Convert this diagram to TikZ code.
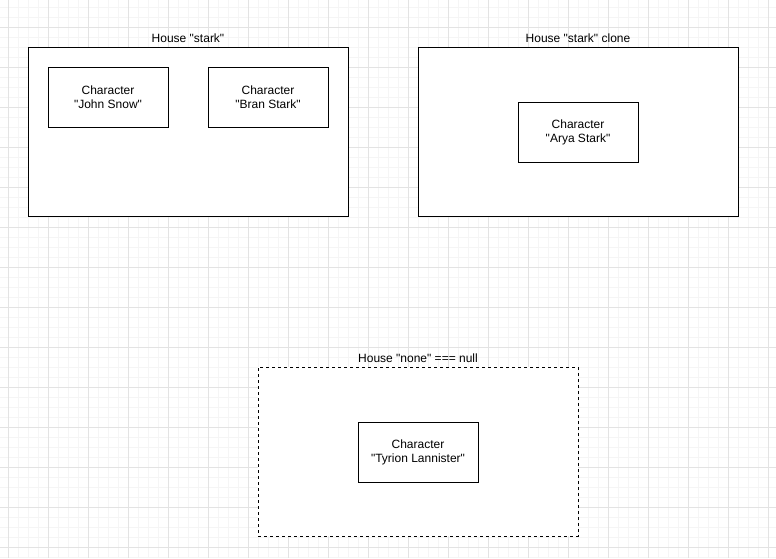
\documentclass[tikz,border=0pt]{standalone}
\usepackage{fontspec}
\setmainfont{Liberation Sans}[Ligatures=TeXOff]
\usetikzlibrary{positioning}

\begin{document}
\begin{tikzpicture}[x=1pt, y=-1pt,
    minorgrid/.style={draw=black!4, line width=0.6pt},
    majorgrid/.style={draw=black!11, line width=0.8pt},
    house/.style={draw, line width=1pt, fill=white, minimum width=320pt, minimum height=169pt, inner sep=0pt},
    character/.style={draw, line width=1pt, fill=white, minimum width=120pt, minimum height=60pt, align=center, font=\fontsize{12}{14}\selectfont},
    housename/.style={font=\fontsize{12}{14}\selectfont, inner sep=2pt}]

    % Page and background
    \useasboundingbox (0,0) rectangle (776,558);
    \fill[white] (0,0) rectangle (776,558);

    % Draw the grid (faint lines every 10, darker every 40)
    \foreach \x in {8,18,...,768} \draw[minorgrid] (\x,0) -- (\x,558);
    \foreach \y in {7,17,...,557} \draw[minorgrid] (0,\y) -- (776,\y);
    \foreach \x in {8,48,...,768} \draw[majorgrid] (\x,0) -- (\x,558);
    \foreach \y in {27,67,...,547} \draw[majorgrid] (0,\y) -- (776,\y);

    % House "stark" with its two characters
    \node[house] (stark) at (188,131.5) {};
    \node[housename, above=2pt of stark] (starkname) {House "stark"};
    \node[character] (john) at (108,97) {Character\\"John Snow"};
    \node[character] (bran) at (268,97) {Character\\"Bran Stark"};

    % The clone, with one character
    \node[house] (clone) at (578,131.5) {};
    \node[housename, above=2pt of clone] (clonename) {House "stark" clone};
    \node[character] (arya) at (578,132) {Character\\"Arya Stark"};

    % House "none" (dashed)
    \node[house, dash pattern=on 3pt off 3pt] (none) at (418,451.5) {};
    \node[housename, above=2pt of none] (nonename) {House "none" === null};
    \node[character] (tyrion) at (418,452) {Character\\"Tyrion Lannister"};

\end{tikzpicture}
\end{document}
